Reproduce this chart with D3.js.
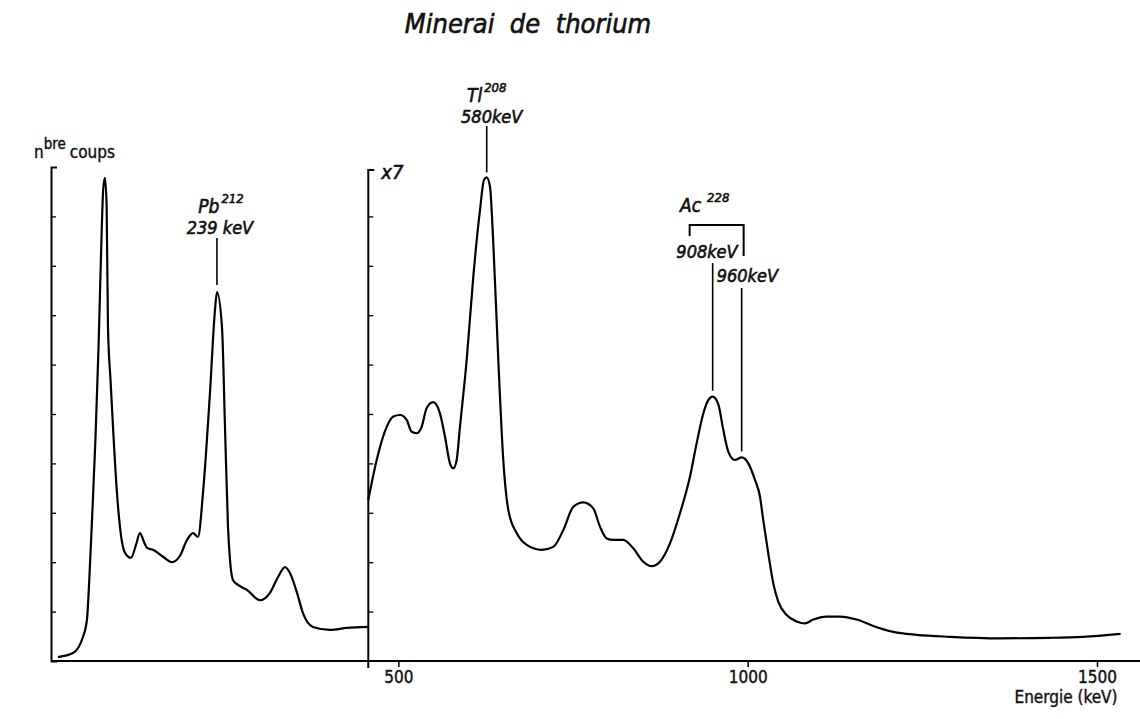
<!DOCTYPE html>
<html>
<head>
<meta charset="utf-8">
<script src="https://cdn.jsdelivr.net/npm/d3@7"></script>
<style>
  html, body { margin: 0; padding: 0; background: #fff; }
  svg { display: block; }
  .ital { font-family: "DejaVu Sans Condensed", "DejaVu Sans", sans-serif; font-style: oblique; font-stretch: condensed; fill: #111; stroke: #111; stroke-width: 0.6px; }
  .up { font-family: "DejaVu Sans Condensed", "DejaVu Sans", sans-serif; font-stretch: condensed; fill: #111; stroke: #111; stroke-width: 0.4px; }
</style>
</head>
<body>
<svg id="chart" width="1140" height="719"></svg>
<script>
// Low-energy part of the spectrum (keV, counts in axis units)
const lowEnergy = [12.9, 34.3, 48.7, 54.4, 57.5, 62.0, 66.5, 71.0, 75.0, 77.6, 80.1, 82.5, 84.4, 88.0, 91.6, 97.3,
  101.6, 108.8, 117.4, 124.5, 130.2, 136.0, 140.3, 148.8, 163.2, 176.0, 187.5, 197.5, 206.1, 213.3, 220.4,
  230.4, 237.6, 240.4, 247.6, 251.9, 256.2, 259.1, 263.3, 270.5, 283.4, 302.0, 316.3, 327.8, 337.8, 344.9,
  355.0, 363.5, 377.8, 402.2, 426.5, 456.6];
const lowCounts = [0.08, 0.16, 0.49, 0.85, 1.60, 3.00, 4.50, 6.40, 8.50, 9.55, 9.78, 9.20, 6.76, 5.70, 4.74, 3.40,
  2.71, 2.19, 2.09, 2.35, 2.59, 2.41, 2.29, 2.25, 2.11, 2.00, 2.13, 2.45, 2.59, 2.51, 3.40,
  5.43, 7.11, 7.47, 6.76, 4.74, 2.71, 2.04, 1.64, 1.54, 1.44, 1.23, 1.38, 1.70, 1.90, 1.78,
  1.38, 0.97, 0.69, 0.63, 0.67, 0.69];

// High-energy part, amplified x7
const highEnergy = [457.0, 469.0, 483.3, 492.8, 502.4, 511.9, 519.1, 526.3, 533.4, 540.6, 550.0, 559.6, 566.8,
  573.9, 578.7, 583.5, 588.2, 597.8, 607.3, 616.9, 622.6, 626.5, 631.2, 635.9, 643.1, 650.2, 657.4, 669.4,
  683.7, 705.2, 721.8, 736.1, 750.4, 764.7, 779.0, 788.6, 798.2, 807.6, 821.9, 836.3, 850.6, 862.6, 874.5,
  888.8, 903.1, 917.4, 927.0, 936.5, 943.6, 949.9, 957.9, 965.1, 972.2, 981.8, 991.4, 1000.9, 1010.6,
  1017.6, 1022.3, 1029.5, 1036.7, 1043.8, 1055.8, 1070.1, 1082.0, 1093.9, 1113.1, 1132.1, 1156.0, 1179.8,
  1208.4, 1241.9, 1289.5, 1361.1, 1432.7, 1479.9, 1533.8];
const highCounts = [3.26, 4.07, 4.74, 4.95, 4.98, 4.88, 4.64, 4.61, 4.74, 5.12, 5.24, 5.01, 4.54,
  4.00, 3.90, 4.07, 4.74, 6.09, 7.78, 9.13, 9.74, 9.79, 9.60, 8.46, 6.09, 4.07, 3.06, 2.59,
  2.35, 2.25, 2.31, 2.65, 3.12, 3.21, 3.09, 2.72, 2.48, 2.45, 2.45, 2.28, 2.01, 1.92, 2.01,
  2.38, 2.99, 3.73, 4.41, 5.01, 5.28, 5.35, 5.20, 4.68, 4.24, 4.07, 4.12, 4.00, 3.66,
  3.33, 2.85, 2.18, 1.57, 1.20, 0.93, 0.80, 0.76, 0.84, 0.90, 0.90, 0.84, 0.71,
  0.59, 0.53, 0.49, 0.46, 0.47, 0.49, 0.55];

const xTicks = [500, 1000, 1500];
const yTicks = [1, 2, 3, 4, 5, 6, 7, 8, 9];
const scaleBreak = 457.0;   // energy where the x7 amplification begins

// Identified lines: position on the energy axis (peak) and nominal energy label
const peakPb = { at: 240.4, nuclide: "Pb", mass: "212", label: "239 keV" };
const peakTl = { at: 626.5, nuclide: "Tl", mass: "208", label: "580keV" };
const peakAc1 = { at: 949.9, label: "908keV" };
const peakAc2 = { at: 991.4, label: "960keV" };

const W = 1140, H = 719;
const svg = d3.select("#chart");

const x = d3.scaleLinear().domain([0, 1500]).range([49, 1097]);
const y = d3.scaleLinear().domain([0, 10]).range([661, 167]);

const line = d3.line()
  .x(d => x(d[0]))
  .y(d => y(d[1]))
  .curve(d3.curveMonotoneX);

const lowData = lowEnergy.map((e, i) => [e, lowCounts[i]]);
const highData = highEnergy.map((e, i) => [e, highCounts[i]]);

// Title
svg.append("text").attr("class", "ital")
  .attr("x", 528).attr("y", 33)
  .attr("text-anchor", "middle")
  .attr("font-size", 27)
  .style("white-space", "pre")
  .text("Minerai  de  thorium");

// Baseline (energy axis)
svg.append("line")
  .attr("x1", x(0) + 2).attr("x2", W)
  .attr("y1", y(0)).attr("y2", y(0))
  .attr("stroke", "#000").attr("stroke-width", 2);

const xAxis = svg.append("g")
  .attr("transform", `translate(0,${y(0)})`)
  .call(d3.axisBottom(x).tickValues(xTicks).tickSize(6).tickPadding(4).tickFormat(d3.format("d")));
xAxis.select(".domain").remove();
xAxis.selectAll(".tick line").attr("stroke", "#000").attr("stroke-width", 1.5);
xAxis.selectAll(".tick text")
  .attr("class", "up")
  .attr("font-size", 17)
  .attr("font-family", "DejaVu Sans Condensed, DejaVu Sans, sans-serif");

// Left count axis
const yAxisL = svg.append("g")
  .attr("transform", `translate(${x(0) + 2},0)`)
  .call(d3.axisRight(y).tickValues(yTicks).tickSize(5).tickSizeOuter(6).tickFormat(""));
yAxisL.select(".domain").attr("stroke", "#000").attr("stroke-width", 2);
yAxisL.selectAll(".tick line").attr("stroke", "#000").attr("stroke-width", 1.3);

// Right (x7) count axis at the scale break
const yAxisR = svg.append("g")
  .attr("transform", `translate(${x(scaleBreak)},0)`)
  .call(d3.axisRight(y).tickValues(yTicks).tickSize(5).tickSizeOuter(6).tickFormat(""));
yAxisR.select(".domain")
  .attr("d", `M6,${y(10) + 3}H0V${y(0) + 7}`)
  .attr("stroke", "#000").attr("stroke-width", 2);
yAxisR.selectAll(".tick line").attr("stroke", "#000").attr("stroke-width", 1.3);

svg.append("text").attr("class", "ital")
  .attr("x", x(scaleBreak) + 13).attr("y", 179)
  .attr("font-size", 20)
  .text("x7");

// Axis titles
const yl = svg.append("text").attr("class", "up")
  .attr("x", 34).attr("y", 158)
  .attr("font-size", 17);
yl.append("tspan").text("n");
yl.append("tspan").attr("dy", -9).attr("font-size", 15).text("bre");
yl.append("tspan").attr("dy", 9).attr("dx", 4).text("coups");

svg.append("text").attr("class", "up")
  .attr("x", 1066).attr("y", 703)
  .attr("text-anchor", "middle")
  .attr("font-size", 17)
  .text("Energie (keV)");

// Spectrum
svg.append("path").datum(lowData)
  .attr("d", line)
  .attr("fill", "none").attr("stroke", "#000").attr("stroke-width", 2.2);
svg.append("path").datum(highData)
  .attr("d", line)
  .attr("fill", "none").attr("stroke", "#000").attr("stroke-width", 2.2);

// Peak identification
function countAt(data, e) {
  return data.find(d => d[0] === e)[1];
}
function leader(px, y1, y2) {
  svg.append("line")
    .attr("x1", px).attr("x2", px).attr("y1", y1).attr("y2", y2)
    .attr("stroke", "#000").attr("stroke-width", 1.6);
}
function nuclideLabel(cx, yb, p, dx) {
  const t = svg.append("text").attr("class", "ital")
    .attr("x", cx + dx).attr("y", yb)
    .attr("text-anchor", "middle")
    .attr("font-size", 19);
  t.append("tspan").text(p.nuclide);
  t.append("tspan").attr("dy", -10).attr("dx", 2).attr("font-size", 13).text(p.mass);
}

// Pb 212
{
  const px = x(peakPb.at);
  nuclideLabel(px, 213, peakPb, 4);
  svg.append("text").attr("class", "ital")
    .attr("x", px + 3).attr("y", 234).attr("text-anchor", "middle")
    .attr("font-size", 18).text(peakPb.label);
  leader(px, 238, y(countAt(lowData, peakPb.at)) - 7);
}

// Tl 208
{
  const px = x(peakTl.at);
  nuclideLabel(px, 102, peakTl, 0);
  svg.append("text").attr("class", "ital")
    .attr("x", px + 5).attr("y", 123).attr("text-anchor", "middle")
    .attr("font-size", 18).text(peakTl.label);
  leader(px, 126, y(countAt(highData, peakTl.at)) - 5);
}

// Ac 228 doublet
{
  const p1 = x(peakAc1.at), p2 = x(peakAc2.at);
  const t = svg.append("text").attr("class", "ital")
    .attr("x", 680).attr("y", 212).attr("font-size", 19);
  t.append("tspan").text("Ac");
  t.append("tspan").attr("dy", -10).attr("dx", 6).attr("font-size", 13).text("228");

  svg.append("path")
    .attr("d", `M${p1 - 23},236V225H${p2 + 2}V256`)
    .attr("fill", "none").attr("stroke", "#000").attr("stroke-width", 2);

  svg.append("text").attr("class", "ital")
    .attr("x", p1 + 25).attr("y", 258).attr("text-anchor", "end")
    .attr("font-size", 18).text(peakAc1.label);
  svg.append("text").attr("class", "ital")
    .attr("x", p2 - 25).attr("y", 282)
    .attr("font-size", 18).text(peakAc2.label);

  leader(p1, 263, y(countAt(highData, peakAc1.at)) - 6);
  leader(p2, 288, y(countAt(highData, peakAc2.at)) - 6);
}
</script>
</body>
</html>
